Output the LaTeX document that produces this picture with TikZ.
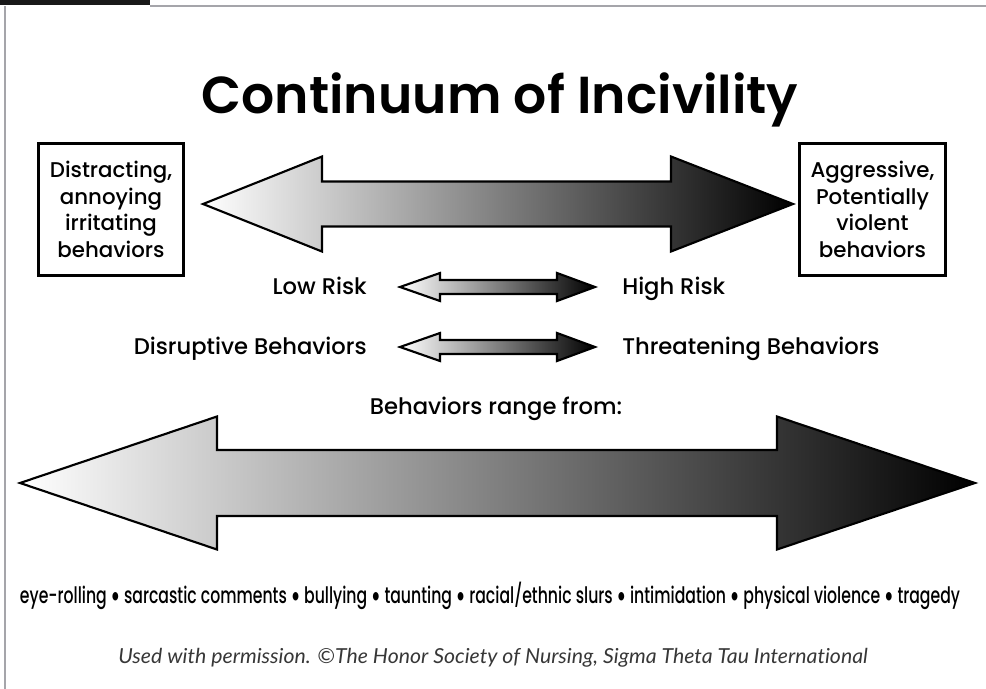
\documentclass[tikz,border=0pt]{standalone}
\usepackage{fontspec}
\setmainfont{Lato}[Ligatures=NoCommon]
\newfontfamily\headfont{Poppins Medium}[BoldFont={Poppins SemiBold}]
\usepackage{graphicx}
\usetikzlibrary{positioning}

\definecolor{rulegray}{RGB}{165, 165, 170}
\definecolor{creditgray}{RGB}{55, 55, 55}

\newcommand{\labelfont}{\headfont\fontsize{17pt}{20pt}\selectfont}
\newcommand{\dotsep}{ {\normalfont\textbullet} }
% shaded double arrow: tip left, head left, head right, tip right, centre y, half shaft, half head
\newcommand{\gradarrow}[7]{%
  \draw[arrowshape] (#1,#5) -- (#2,#5-#7) -- (#2,#5-#6) -- (#3,#5-#6) -- (#3,#5-#7)
    -- (#4,#5) -- (#3,#5+#7) -- (#3,#5+#6) -- (#2,#5+#6) -- (#2,#5+#7) -- cycle;}

\begin{document}
\begin{tikzpicture}[x=0.75pt, y=-0.75pt,
  framebox/.style={draw, line width=2.2pt, minimum width=109pt, minimum height=99pt, align=center, font=\headfont\fontsize{16pt}{20pt}\selectfont, inner sep=0pt},
  riskword/.style={font=\labelfont, inner sep=0pt},
  arrowshape/.style={line width=1.6pt, line join=miter, left color=white, right color=black}]
  \useasboundingbox (0,0) rectangle (986,689);

  % page frame
  \fill[black!90] (0,0) rectangle (150,5);
  \draw[rulegray, line width=1.5pt] (150,6) -- (986,6);
  \draw[rulegray, line width=1.2pt] (5,6) -- (5,689);

  % Title
  \node[font=\headfont\fontsize{39pt}{44pt}\selectfont\bfseries, anchor=base, inner sep=0pt] (title) at (500,113) {Continuum of Incivility};

  % End boxes
  \node[framebox] (mild) at (111,209.5) {Distracting,\\annoying\\irritating\\behaviors};
  \node[framebox] (severe) at (872.5,209.5) {Aggressive,\\Potentially\\violent\\behaviors};

  % Top arrow between the boxes
  \gradarrow{203}{322}{671}{793}{204}{22.5}{47.5}

  % Risk rows
  \node[riskword, anchor=base east] (low) at (367,294) {Low Risk};
  \node[riskword, anchor=base west] (high) at (622,294) {High Risk};
  \gradarrow{400}{440}{557}{595}{287}{7}{14}

  \node[riskword, anchor=base east] (disrupt) at (367,354) {Disruptive Behaviors};
  \node[riskword, anchor=base west] (threat) at (622,354) {Threatening Behaviors};
  \gradarrow{400}{440}{557}{595}{347}{7}{14}

  \node[riskword, anchor=base] (range) at (496,414) {Behaviors range from:};

  % Bottom arrow
  \gradarrow{20}{217}{777}{975}{483}{33}{66.5}

  % Examples and credit
  \node[font=\headfont\fontsize{17pt}{20pt}\selectfont, anchor=base, inner sep=0pt] (examples) at (490,603)
    {\resizebox{705pt}{\height}{eye-rolling\dotsep sarcastic comments\dotsep bullying\dotsep taunting\dotsep racial/ethnic slurs\dotsep intimidation\dotsep physical violence\dotsep tragedy}};
  \node[font=\fontsize{15.5pt}{18pt}\selectfont\itshape, text=creditgray, anchor=base, inner sep=0pt] (credit) at (493,663)
    {\resizebox{562pt}{\height}{Used with permission. \textcopyright The Honor Society of Nursing, Sigma Theta Tau International}};
\end{tikzpicture}
\end{document}
